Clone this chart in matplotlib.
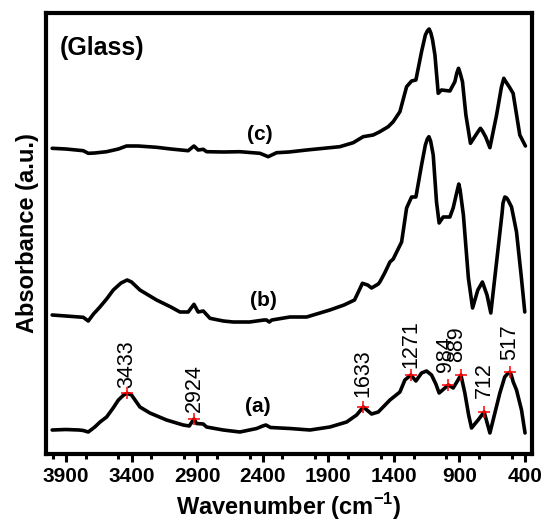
import numpy as np
import matplotlib
matplotlib.use("Agg")
import matplotlib.pyplot as plt
from matplotlib.ticker import MultipleLocator

plt.rcParams['font.family'] = ['Liberation Sans', 'DejaVu Sans']

# ---- data (wavenumber in cm^-1, absorbance in arbitrary offset units) ----
wn_a = [4005, 3900, 3800, 3768, 3730, 3680, 3640, 3590, 3540, 3500, 3460, 3433, 3400,
        3336, 3260, 3133, 3006, 2960, 2924, 2904, 2853, 2828, 2701, 2574, 2446, 2400,
        2376, 2340, 2193, 2040, 1888, 1760, 1684, 1633, 1570, 1519, 1430, 1354, 1316,
        1271, 1232, 1189, 1151, 1113, 1080, 1055, 1011, 984, 948, 920, 889, 859, 830,
        808, 758, 712, 668, 630, 592, 555, 535, 517, 505, 490, 465, 427, 400]
abs_a = [95, 95.5, 95, 94.5, 93, 98, 103, 108, 117, 125, 130, 131.7, 130,
         118, 112, 105, 100, 99, 106, 101.5, 101, 98, 95, 93, 96.5, 99,
         100, 97.5, 96.5, 95, 98, 103, 110, 118, 111, 113, 125, 133, 145,
         150, 144, 152, 154, 150, 141, 132, 137, 140, 137, 143, 150, 132, 110,
         97, 105, 113, 92, 112, 132, 148, 151, 152.7, 150, 143, 135, 115, 92]

wn_b = [4005, 3900, 3800, 3768, 3730, 3690, 3641, 3590, 3539, 3480, 3433, 3400, 3336,
        3260, 3209, 3100, 3031, 2968, 2924, 2892, 2853, 2802, 2700, 2625, 2500, 2390,
        2371, 2350, 2330, 2193, 2065, 1888, 1780, 1700, 1660, 1640, 1600, 1570, 1519,
        1507, 1470, 1430, 1405, 1341, 1303, 1265, 1232, 1189, 1160, 1145, 1133, 1120,
        1100, 1075, 1055, 1024, 973, 948, 918, 905, 895, 870, 832, 800, 760, 725, 690,
        661, 605, 575, 568, 554, 540, 530, 503, 465, 430, 402]
abs_b = [210, 209, 208, 207.7, 204, 211, 218, 226, 235, 242, 245, 243, 235,
         229, 225, 218, 213, 213, 220.7, 213, 214, 206.7, 204, 203, 203, 205,
         205, 203, 205, 208, 208, 215, 220, 225, 236, 241.7, 240, 237, 241,
         243, 252, 263, 266, 283, 317, 328, 328, 360, 380, 386, 388.3, 384,
         370, 323, 302, 308, 308, 317, 334, 341, 335, 310, 247, 217, 235, 243, 230,
         212, 277, 312, 322, 328, 327, 325, 318, 293, 250, 213]

wn_c = [4005, 3900, 3768, 3730, 3680, 3590, 3500, 3438, 3350, 3209, 3100, 2968, 2924,
        2892, 2853, 2828, 2700, 2574, 2421, 2358, 2294, 2200, 2065, 1950, 1812, 1710,
        1634, 1558, 1507, 1443, 1405, 1354, 1303, 1265, 1232, 1189, 1160, 1145, 1131,
        1118, 1105, 1087, 1062, 1037, 973, 935, 920, 907, 895, 877, 851, 816, 780, 755,
        740, 725, 700, 668, 617, 580, 562, 550, 521, 491, 440, 397]
abs_c = [376.7, 376, 374.3, 371.7, 372, 373.3, 376, 379, 379, 377.7, 376, 374.3, 379,
         375, 375.7, 373.3, 373, 373.3, 371.7, 368.3, 372.3, 373, 375, 376.5, 378.3, 382.3,
         388.3, 390, 393.3, 398.3, 403.3, 413.3, 438.3, 444, 445, 473.3, 490, 494, 496,
         492, 485, 470, 431.7, 435, 434, 443.3, 452, 456.7, 452, 443.3, 410, 381.7, 389, 394,
         396.7, 394, 388, 377.3, 410, 438, 446.7, 444, 438.3, 431.7, 390, 379]

peak_positions = [3433, 2924, 1633, 1271, 984, 889, 712, 517]
peak_labels = ['3433', '2924', '1633', '1271', '984', '889', '712', '517']

curve_names = ['(a)', '(b)', '(c)']
xtick_values = [3900, 3400, 2900, 2400, 1900, 1400, 900, 400]

# ---- layout / style ----
label_gap_px = [5, 7, 10, 7, 13, 13, 14, 12]
label_dx_px = [0, 0, 0, 0, -3, -4, 0, 0]
name_pos = [(2437, 119), (2391, 225), (2421, 390)]

W, H = 544, 525
fig = plt.figure(figsize=(W / 100, H / 100), dpi=100)
ax = fig.add_axes([46 / W, 1 - 454 / H, 486 / W, 441 / H])

lw = 2.6
for wn, ab in [(wn_a, abs_a), (wn_b, abs_b), (wn_c, abs_c)]:
    ax.plot(wn, ab, color='black', lw=lw, solid_joinstyle='round', solid_capstyle='round')

# peak markers and labels on curve (a)
wa = np.array(wn_a)[::-1]
aa = np.array(abs_a)[::-1]
peak_y = np.interp(peak_positions, wa, aa)
ax.plot(peak_positions, peak_y, ls='none', marker='+', color='red', ms=8, mew=1.1, zorder=5)
pt = 72 / 100
for x, y, lab, g, dx in zip(peak_positions, peak_y, peak_labels, label_gap_px, label_dx_px):
    ax.annotate(lab, (x, y), xytext=(dx * pt, g * pt), textcoords='offset points',
                rotation=90, ha='center', va='bottom', fontsize=15.5)

for name, (x, y) in zip(curve_names, name_pos):
    ax.text(x, y, name, ha='center', va='center', fontsize=15, fontweight='bold')

ax.text(0.029, 0.92, '(Glass)', transform=ax.transAxes, ha='left', va='center',
        fontsize=18, fontweight='bold')

ax.set_xlim(4052, 347)
ax.set_ylim(71, 512)
ax.set_xticks(xtick_values)
ax.set_xticklabels([str(v) for v in xtick_values], fontweight='bold', fontsize=15)
ax.xaxis.set_minor_locator(MultipleLocator(250))
ax.tick_params(axis='x', which='major', direction='out', length=6, width=2.2, pad=3)
ax.tick_params(axis='x', which='minor', direction='out', length=3.5, width=2.2)
ax.set_yticks([])
for s in ax.spines.values():
    s.set_linewidth(3)

ax.set_xlabel(r'Wavenumber (cm$^{\mathregular{-1}}$)', fontsize=17, fontweight='bold', labelpad=4)
ax.set_ylabel('Absorbance (a.u.)', fontsize=17, fontweight='bold', labelpad=5)

fig.savefig('out.png', dpi=100)
